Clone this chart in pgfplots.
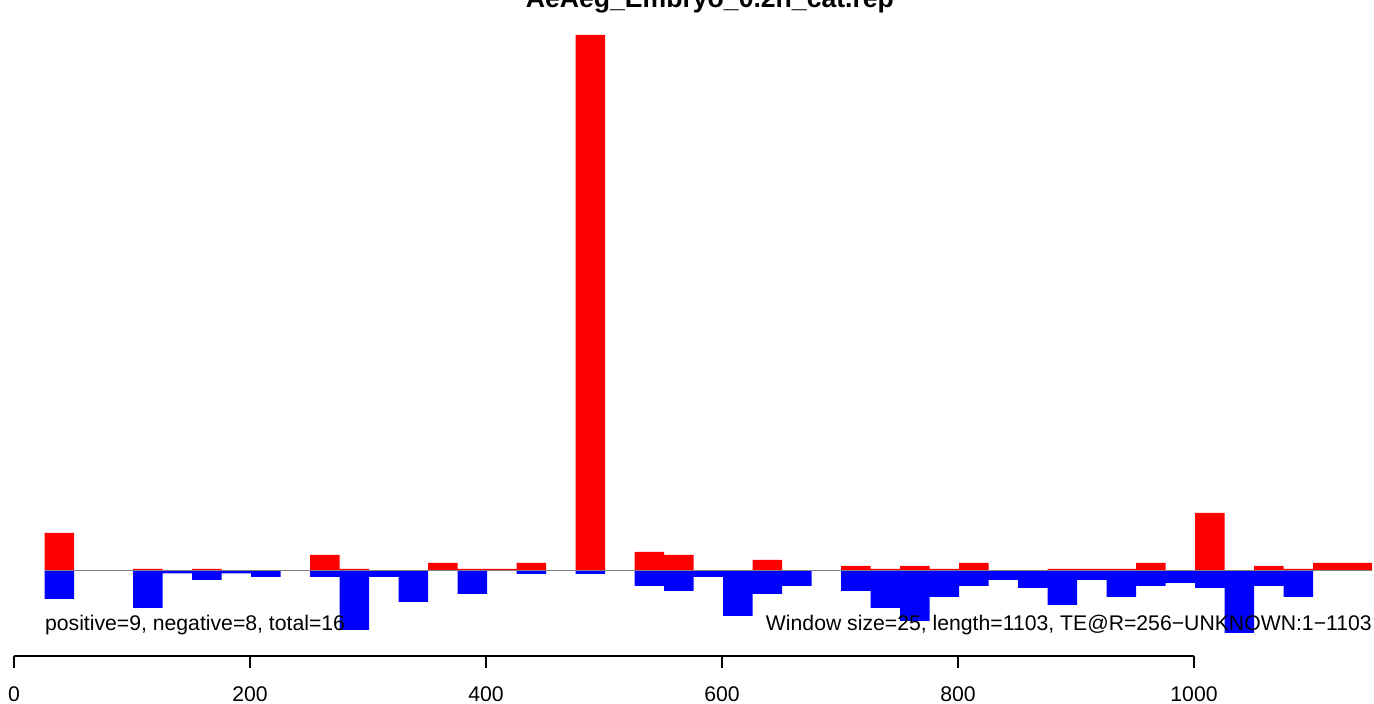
\documentclass[border=0pt]{standalone}
\usepackage{pgfplots}
\pgfplotsset{compat=1.18}
\usepackage{fontspec}
\setmainfont{Liberation Sans}
\pgfplotstableread{
x red blue
26 38 -28
51 0 0
76 0 0
101 2 -37
126 0 -2.5
151 2 -9
176 0 -2.5
201 0 -6
226 0 0
251 16 -6
276 2 -59
301 0 -6
326 0 -31
351 8 0
376 2 -23
401 2 0
426 8 -3
451 0 0
476 536 -3
501 0 0
526 19 -15
551 16 -20
576 0 -6
601 0 -45
626 11 -23
651 0 -15
676 0 0
701 5 -20
726 2 -37
751 5 -50
776 2 -26
801 8 -15
826 0 -9
851 0 -17
876 2 -34
901 2 -9
926 2 -26
951 8 -15
976 0 -12
1001 58 -17
1026 0 -62
1051 5 -15
1076 2 -26
1101 8 0
1126 8 0
1151 0 0
}\datatable
\begin{document}
\begin{tikzpicture}
\begin{axis}[
  scale only axis, width=590pt, height=328pt,
  xmin=0, xmax=1000, ymin=-85, ymax=571,
  clip=false,
  axis x line*=bottom, axis y line=none,
  x axis line style={-, line width=0.6pt},
  xtick={0,200,400,600,800,1000},
  tick align=outside, major tick length=6pt,
  tick style={line width=0.6pt, black},
  /pgf/number format/assume math mode=true,
  /pgf/number format/1000 sep={},
  xticklabel style={font=\fontsize{10.6}{12}\selectfont, yshift=-6pt},
]
\addplot[ybar interval, fill={rgb,1:red,1;green,0;blue,0}, draw=none] table[x=x, y=red] {\datatable};
\addplot[ybar interval, fill={rgb,1:red,0;green,0;blue,1}, draw=none] table[x=x, y=blue] {\datatable};
\addplot[gray, line width=0.5pt] coordinates {(26,0) (1151,0)};
\node[anchor=base, font=\bfseries\fontsize{13.3}{16}\selectfont] at (axis cs:589.8,563) {AeAeg\_Embryo\_0.2h\_cat.rep};
\node[anchor=base west, inner sep=0pt, font=\fontsize{10.6}{12}\selectfont] at (axis cs:26,-60) {positive=9, negative=8, total=16};
\node[anchor=base east, inner sep=0pt, font=\fontsize{10.6}{12}\selectfont] at (axis cs:1151,-60) {Window size=25, length=1103, TE@R=256−UNKNOWN:1−1103};
\coordinate (bl) at (axis cs:-11.864,-133);
\coordinate (tr) at (axis cs:1152.54,571);
\end{axis}
\pgfresetboundingbox
\useasboundingbox (bl) rectangle (tr);
\end{tikzpicture}
\end{document}
